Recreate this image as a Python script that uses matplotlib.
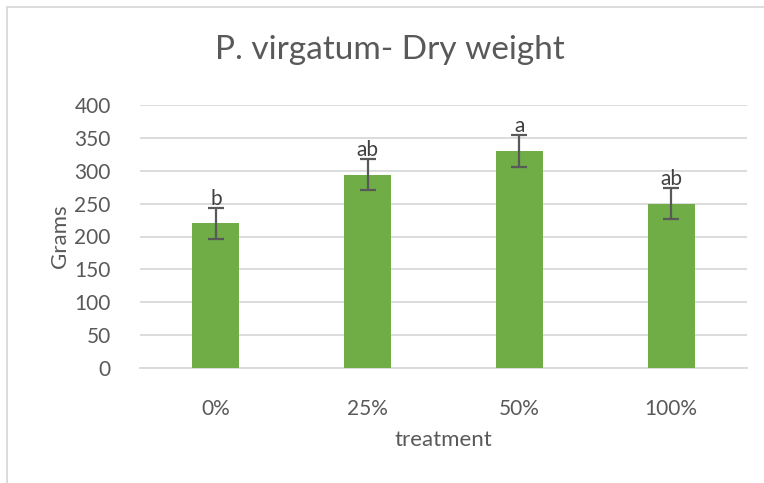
import matplotlib
matplotlib.use("Agg")
import matplotlib.pyplot as plt
from matplotlib.patches import Rectangle

# data
treatments = ["0%", "25%", "50%", "100%"]
dry_weight = [220, 294, 330, 250]
err = [24, 24, 25, 24]
letters = ["b", "ab", "a", "ab"]

plt.rcParams['font.family'] = ['Lato', 'DejaVu Sans']

fig = plt.figure(figsize=(7.64, 4.83), dpi=100)
W, H = 764, 483

# chart border like the excel chart area
fig.patches.append(Rectangle((7 / W, -0.1), 1.0, 1 - 7 / H + 0.1, transform=fig.transFigure,
                             fill=False, edgecolor="#D9D9D9", linewidth=1.3))

ax = fig.add_axes([140 / W, 1 - 368 / H, 607 / W, 263 / H])

x = list(range(len(treatments)))
ax.bar(x, dry_weight, width=0.31, color="#70AD47", zorder=3)
ax.errorbar(x, dry_weight, yerr=err, fmt="none", ecolor="#595959",
            elinewidth=1.6, capsize=6, capthick=1.6, zorder=4)

for xi, v, e, lab in zip(x, dry_weight, err, letters):
    ax.text(xi, v + e - 2, lab, ha="center", va="bottom", fontsize=15, color="#404040", zorder=5)

ax.set_xlim(-0.5, 3.5)
ax.set_ylim(0, 400)
ax.set_yticks(range(0, 401, 50))
ax.set_xticks(x)
ax.set_xticklabels(treatments)
ax.grid(axis="y", color="#D9D9D9", linewidth=1.3, zorder=0)
ax.set_axisbelow(True)
for s in ["top", "right", "left"]:
    ax.spines[s].set_visible(False)
ax.spines["bottom"].set_color("#D9D9D9")
ax.spines["bottom"].set_linewidth(1.3)
ax.tick_params(length=0, labelsize=15, labelcolor="#595959")
ax.tick_params(axis="y", pad=21)
ax.tick_params(axis="x", pad=22)

ax.set_ylabel("Grams", fontsize=16, color="#595959", labelpad=3)
ax.set_xlabel("treatment", fontsize=16, color="#595959", labelpad=8)

fig.text(390 / W, 1 - 50 / H, "P. virgatum- Dry weight", ha="center", va="center",
         fontsize=24, color="#595959")

fig.savefig("out.png", dpi=100)
